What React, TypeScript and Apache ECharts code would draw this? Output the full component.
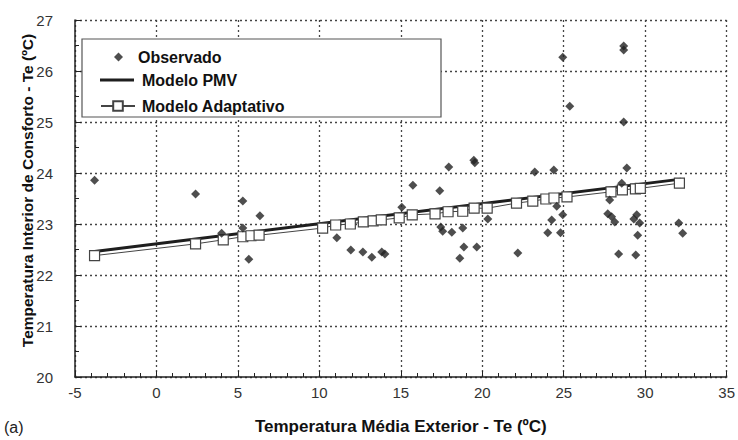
import React, { useEffect, useRef } from "react";
import * as echarts from "echarts";

// Observed indoor comfort temperatures vs. mean outdoor temperature
const observedOutdoor = [
  -3.8, 2.4, 5.3, 6.35, 5.3, 4.0, 5.67, 11.07, 11.93, 12.67, 13.22, 13.83, 14.02,
  15.06, 15.74, 17.94, 17.39, 19.48, 19.54, 17.45, 17.57, 18.13, 18.8, 18.87, 18.62,
  19.66, 20.34, 22.18, 23.22, 24.39, 24.57, 24.26, 24.02, 24.8, 24.94, 28.87, 28.56,
  27.82, 27.7, 27.94, 28.13, 28.37, 29.42, 29.48, 29.3, 29.66, 29.54, 32.06, 32.3,
  24.94, 25.37, 28.68, 28.68, 28.68,
];
const observedComfort = [
  23.86, 23.59, 23.45, 23.16, 22.92, 22.82, 22.31, 22.73, 22.49, 22.45, 22.35, 22.45, 22.41,
  23.33, 23.76, 24.12, 23.65, 24.25, 24.2, 22.94, 22.86, 22.84, 22.92, 22.55, 22.33,
  22.55, 23.1, 22.43, 24.02, 24.06, 23.35, 23.08, 22.83, 22.83, 23.18, 24.1, 23.8,
  23.47, 23.2, 23.14, 23.04, 22.41, 22.39, 23.18, 23.1, 23.02, 22.78, 23.02, 22.82,
  26.27, 25.31, 26.49, 26.41, 25.0,
];

// PMV model (straight line)
const pmvOutdoor = [-3.8, 32.2];
const pmvComfort = [22.46, 23.88];

// Adaptive model
const adaptiveOutdoor = [
  -3.8, 2.4, 4.1, 5.3, 5.8, 6.3, 10.2, 11.0, 11.9, 12.7, 13.3, 13.8, 14.9, 15.7,
  17.1, 17.9, 18.8, 19.5, 20.3, 22.1, 23.1, 23.9, 24.4, 25.2, 27.9, 28.6, 29.4, 29.7, 32.1,
];
const adaptiveComfort = [
  22.38, 22.61, 22.69, 22.75, 22.77, 22.78, 22.92, 22.98, 23.0, 23.04, 23.06, 23.08, 23.12, 23.18,
  23.2, 23.24, 23.25, 23.31, 23.31, 23.41, 23.45, 23.49, 23.51, 23.53, 23.63, 23.67, 23.69, 23.7, 23.8,
];

const xTicks = { min: -5, max: 35, interval: 5 };
const yTicks = { min: 20, max: 27, interval: 1 };

const seriesNames = ["Observado", "Modelo PMV", "Modelo Adaptativo"];

const FONT = "'Liberation Sans', Arial, sans-serif";

const zip = (xs: number[], ys: number[]) => xs.map((x, i) => [x, ys[i]]);

export default function App() {
  const ref = useRef<HTMLDivElement>(null);

  useEffect(() => {
    if (!ref.current) return;
    const chart = echarts.init(ref.current, undefined, { renderer: "svg" });

    const gridLine = { show: true, lineStyle: { color: "#444", width: 1.3, type: [2, 3] as number[] } };
    const legendText = { fontFamily: FONT, fontSize: 16, fontWeight: "bold" as const, color: "#111" };

    chart.setOption({
      animation: false,
      backgroundColor: "#fff",
      grid: { left: 75, right: 11, top: 20, bottom: 63 },
      xAxis: {
        type: "value",
        ...xTicks,
        name: "Temperatura Média Exterior - Te (ºC)",
        nameLocation: "middle",
        nameGap: 41,
        nameMoveOverlap: false,
        nameTextStyle: { fontFamily: FONT, fontSize: 17, fontWeight: "bold", color: "#111" },
        axisLine: { show: true, onZero: false, lineStyle: { color: "#222", width: 1.5 } },
        axisTick: { show: true, inside: true, length: 6, lineStyle: { color: "#222" } },
        minorTick: { show: true, splitNumber: 5, length: 4, lineStyle: { color: "#222" } },
        axisLabel: { fontFamily: FONT, fontSize: 15, color: "#333", margin: 8 },
        splitLine: gridLine,
      },
      yAxis: {
        type: "value",
        ...yTicks,
        name: "Temperatura Interior de Consforto - Te (ºC)",
        nameLocation: "middle",
        nameGap: 40,
        nameMoveOverlap: false,
        nameTextStyle: {
          fontFamily: FONT, fontSize: 15.5, fontWeight: "bold", color: "#111",
          padding: [0, 0, 0, 16],
        },
        axisLine: { show: true, onZero: false, lineStyle: { color: "#222", width: 1.5 } },
        axisTick: { show: true, inside: true, length: 6, lineStyle: { color: "#222" } },
        minorTick: { show: true, splitNumber: 2, length: 4, lineStyle: { color: "#222" } },
        axisLabel: { fontFamily: FONT, fontSize: 15, color: "#333", margin: 22 },
        splitLine: gridLine,
      },
      legend: [
        {
          data: [{ name: seriesNames[0], icon: "diamond" }],
          left: 109, top: 44, itemWidth: 9, itemHeight: 9,
          textStyle: { ...legendText, padding: [0, 0, 0, 10] },
          selectedMode: false,
        },
        {
          data: [{ name: seriesNames[1], icon: "rect" }],
          left: 95, top: 67, itemWidth: 34, itemHeight: 3,
          textStyle: { ...legendText, padding: [0, 0, 0, 3] },
          selectedMode: false,
        },
        {
          data: [seriesNames[2]],
          left: 95, top: 93, itemWidth: 34, itemHeight: 12,
          textStyle: { ...legendText, padding: [0, 0, 0, 2] },
          selectedMode: false,
        },
      ],
      graphic: [
        {
          type: "rect",
          z: 3,
          shape: { x: 82, y: 39, width: 359, height: 78 },
          style: { fill: "#fff", stroke: "#555", lineWidth: 1.2 },
        },
        {
          type: "text",
          left: 4,
          top: 419,
          style: { text: "(a)", fontFamily: FONT, fontSize: 16, fill: "#222" },
        },
      ],
      series: [
        {
          name: seriesNames[1],
          type: "line",
          data: zip(pmvOutdoor, pmvComfort),
          symbol: "none",
          lineStyle: { color: "#1e1e1e", width: 3 },
          itemStyle: { color: "#1e1e1e" },
          z: 3,
        },
        {
          name: seriesNames[2],
          type: "line",
          data: zip(adaptiveOutdoor, adaptiveComfort),
          symbol: "rect",
          symbolSize: 10,
          lineStyle: { color: "#444", width: 1 },
          itemStyle: { color: "#fff", borderColor: "#444", borderWidth: 1.2 },
          z: 4,
        },
        {
          name: seriesNames[0],
          type: "scatter",
          data: zip(observedOutdoor, observedComfort),
          symbol: "diamond",
          symbolSize: 9,
          itemStyle: { color: "#222" },
          z: 5,
        },
      ],
    });

    return () => chart.dispose();
  }, []);

  return <div ref={ref} style={{ width: 738, height: 440, position: "absolute", left: 0, top: 0 }} />;
}
